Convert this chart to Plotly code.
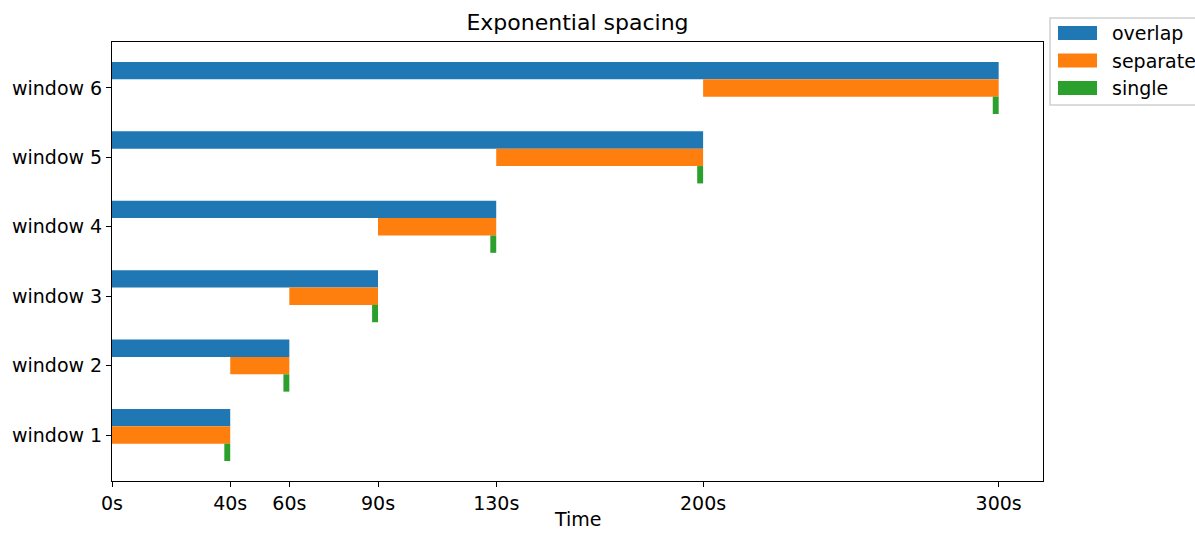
import plotly.graph_objects as go

windows = ["window 1", "window 2", "window 3", "window 4", "window 5", "window 6"]
ends = [40, 60, 90, 130, 200, 300]
starts_separate = [0, 40, 60, 90, 130, 200]
single_len = 2
tick_vals = [0, 40, 60, 90, 130, 200, 300]
tick_text = ["0s", "40s", "60s", "90s", "130s", "200s", "300s"]
series_names = ["overlap", "separate", "single"]
series_colors = ["#1f77b4", "#ff7f0e", "#2ca02c"]

pos = list(range(len(windows)))
h = 0.25

# plot area in pixels
W, H = 1195, 533
L, R, T, B = 112, 1043, 42, 481
PW, PH = R - L, B - T


def px(x):
    return (x - L) / PW


def py(y):
    return (B - y) / PH


fig = go.Figure()
fig.add_trace(go.Bar(
    name=series_names[0], orientation="h",
    y=[p + h for p in pos], x=ends, base=[0] * len(ends),
    width=h, marker=dict(color=series_colors[0], line=dict(width=0)),
))
fig.add_trace(go.Bar(
    name=series_names[1], orientation="h",
    y=pos, x=[e - s for e, s in zip(ends, starts_separate)], base=starts_separate,
    width=h, marker=dict(color=series_colors[1], line=dict(width=0)),
))
fig.add_trace(go.Bar(
    name=series_names[2], orientation="h",
    y=[p - h for p in pos], x=[single_len] * len(ends), base=[e - single_len for e in ends],
    width=h, marker=dict(color=series_colors[2], line=dict(width=0)),
))

font = dict(family="DejaVu Sans", size=19, color="#000000")

# legend drawn by hand so the swatches are wide rectangles
shapes = []
annotations = []
r = 4
x0, x1, y0, y1 = px(1050), px(1205), py(18), py(105)
shapes.append(dict(
    type="rect", xref="paper", yref="paper", x0=x0, x1=x1, y0=y1, y1=y0,
    line=dict(color="#d0d0d0", width=1.5), fillcolor="rgba(255,255,255,0.8)", layer="above",
))
for i, (name, color) in enumerate(zip(series_names, series_colors)):
    cy = 33 + i * 27.5
    shapes.append(dict(
        type="rect", xref="paper", yref="paper",
        x0=px(1058), x1=px(1097), y0=py(cy + 7), y1=py(cy - 7),
        line=dict(width=0), fillcolor=color, layer="above",
    ))
    annotations.append(dict(
        text=name, xref="paper", yref="paper", x=px(1110), xanchor="left",
        y=py(cy), yanchor="middle", showarrow=False, font=font,
    ))

annotations.append(dict(
    text="Time", xref="paper", yref="paper", x=0.5, xanchor="center",
    y=py(532), yanchor="bottom", showarrow=False, font=font,
))

fig.update_layout(
    width=W, height=H,
    margin=dict(l=L, r=W - R, t=T, b=H - B),
    paper_bgcolor="white", plot_bgcolor="white",
    barmode="overlay",
    font=font,
    showlegend=False,
    title=dict(text="Exponential spacing", x=(L + R) / 2 / W, xanchor="center",
               y=1 - 22 / H, yanchor="middle",
               font=dict(family="DejaVu Sans", size=22, color="#000")),
    xaxis=dict(range=[0, 315], tickvals=tick_vals, ticktext=tick_text,
               showgrid=False, zeroline=False, ticks="outside", ticklen=5, tickwidth=1,
               tickcolor="#000", showline=True, linecolor="#000", linewidth=1, mirror=True,
               tickfont=font),
    yaxis=dict(range=[-0.6625, 5.6625], tickvals=pos, ticktext=windows,
               showgrid=False, zeroline=False, ticks="outside", ticklen=5, tickwidth=1,
               tickcolor="#000", showline=True, linecolor="#000", linewidth=1, mirror=True,
               tickfont=font),
    shapes=shapes,
    annotations=annotations,
)

fig.write_html("out.html")
